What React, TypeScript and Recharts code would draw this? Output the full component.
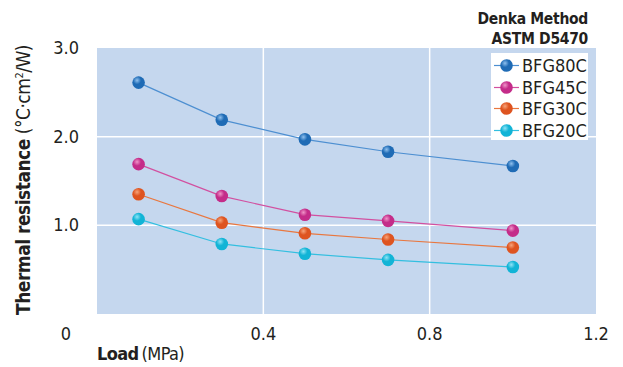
import React from "react";
import {
  LineChart,
  Line,
  XAxis,
  YAxis,
  CartesianGrid,
  ReferenceLine,
} from "recharts";

const loads = [0.1, 0.3, 0.5, 0.7, 1.0];
const bfg80c = [2.61, 2.19, 1.97, 1.83, 1.67];
const bfg45c = [1.69, 1.33, 1.12, 1.05, 0.94];
const bfg30c = [1.35, 1.03, 0.91, 0.84, 0.75];
const bfg20c = [1.07, 0.79, 0.68, 0.61, 0.53];
const xTicks = [0, 0.4, 0.8, 1.2];
const yTicks = [1, 2, 3];

const FONT = '"Liberation Sans Narrow", "DejaVu Sans Condensed", "Roboto", sans-serif';
const TEXT = "#231f20";

const series = [
  { key: "BFG80C", values: bfg80c, line: "#4d8fd1", ball: "#1f6bb5", hi: "#8fc0ee" },
  { key: "BFG45C", values: bfg45c, line: "#d250a0", ball: "#c42c89", hi: "#ef94c8" },
  { key: "BFG30C", values: bfg30c, line: "#e9773f", ball: "#de5420", hi: "#f7a47a" },
  { key: "BFG20C", values: bfg20c, line: "#33bfe0", ball: "#12b4d6", hi: "#8fe3f5" },
];

const data = loads.map((load, i) => {
  const row: Record<string, number> = { load };
  series.forEach((s) => (row[s.key] = s.values[i]));
  return row;
});

const Ball = (props: any) => {
  const { cx, cy, id } = props;
  if (cx == null || cy == null) return null;
  return <circle cx={cx} cy={cy} r={6.3} fill={`url(#ball-${id})`} />;
};

const XTick = (props: any) => {
  const { x, y, payload } = props;
  const v = payload.value;
  const label = v === 0 ? "0" : v.toFixed(1);
  const dx = v === 0 ? -31 : 0;
  return (
    <text x={x + dx} y={y + 18} textAnchor="middle" fontSize={18} fill={TEXT} fontFamily={FONT}>
      {label}
    </text>
  );
};

const YTick = (props: any) => {
  const { x, y, payload } = props;
  return (
    <text x={x} y={y + 6} textAnchor="end" fontSize={18} fill={TEXT} fontFamily={FONT}>
      {payload.value.toFixed(1)}
    </text>
  );
};

export default function App() {
  return (
    <div style={{ position: "absolute", left: 0, top: 0, width: 623, height: 367, background: "#fff", fontFamily: FONT, color: TEXT }}>
      <LineChart
        width={623}
        height={367}
        data={data}
        margin={{ top: 48, right: 27, left: 0, bottom: 0 }}
      >
        <defs>
          {series.map((s) => (
            <radialGradient key={s.key} id={`ball-${s.key}`} cx="0.38" cy="0.32" r="0.7">
              <stop offset="0%" stopColor={s.hi} />
              <stop offset="45%" stopColor={s.ball} />
              <stop offset="100%" stopColor={s.ball} />
            </radialGradient>
          ))}
        </defs>
        <CartesianGrid fill="#c5d7ee" stroke="none" />
        <XAxis
          type="number"
          dataKey="load"
          domain={[0, 1.2]}
          ticks={xTicks}
          height={53}
          axisLine={false}
          tickLine={false}
          tick={<XTick />}
          interval={0}
        />
        <YAxis
          type="number"
          domain={[0, 3]}
          ticks={yTicks}
          width={97}
          axisLine={false}
          tickLine={false}
          tickMargin={12}
          tick={<YTick />}
          interval={0}
        />
        <ReferenceLine y={1} stroke="#fff" strokeWidth={1.5} />
        <ReferenceLine y={2} stroke="#fff" strokeWidth={1.5} />
        <ReferenceLine x={0.4} stroke="#fff" strokeWidth={1.5} />
        <ReferenceLine x={0.8} stroke="#fff" strokeWidth={1.5} />
        {series.map((s) => (
          <Line
            key={s.key}
            dataKey={s.key}
            stroke={s.line}
            strokeWidth={1.2}
            dot={<Ball id={s.key} />}
            activeDot={false}
            isAnimationActive={false}
          />
        ))}
      </LineChart>

      {/* method note */}
      <div style={{ position: "absolute", right: 35, top: 9, textAlign: "right", fontSize: 15.5, fontWeight: "bold", lineHeight: "20px", letterSpacing: -0.3 }}>
        Denka Method
        <br />
        ASTM D5470
      </div>

      {/* legend */}
      <div style={{ position: "absolute", left: 491, top: 53, width: 97, height: 87, background: "#fff" }}>
        {series.map((s, i) => (
          <div key={s.key} style={{ position: "absolute", left: 0, top: 2 + i * 21.7, height: 21, display: "flex", alignItems: "center" }}>
            <svg width={30} height={21}>
              <line x1={3} x2={28} y1={10.5} y2={10.5} stroke={s.line} strokeWidth={1.2} />
              <circle cx={15.5} cy={10.5} r={6.3} fill={`url(#lg-${s.key})`} />
              <defs>
                <radialGradient id={`lg-${s.key}`} cx="0.38" cy="0.32" r="0.7">
                  <stop offset="0%" stopColor={s.hi} />
                  <stop offset="45%" stopColor={s.ball} />
                  <stop offset="100%" stopColor={s.ball} />
                </radialGradient>
              </defs>
            </svg>
            <span style={{ fontSize: 18, marginLeft: 1 }}>{s.key}</span>
          </div>
        ))}
      </div>

      {/* y title */}
      <div
        style={{
          position: "absolute",
          left: 23,
          top: 180,
          transform: "translate(-50%, -50%) rotate(-90deg)",
          whiteSpace: "nowrap",
          fontSize: 19,
          letterSpacing: -0.5,
        }}
      >
        <b>Thermal resistance</b> (°C·cm<sup style={{ fontSize: 11 }}>2</sup>/W)
      </div>

      {/* x title */}
      <div style={{ position: "absolute", left: 97, top: 343, fontSize: 18, whiteSpace: "nowrap", letterSpacing: -0.6 }}>
        <b>Load</b>
        <span style={{ marginLeft: 3 }}>(MPa)</span>
      </div>
    </div>
  );
}
